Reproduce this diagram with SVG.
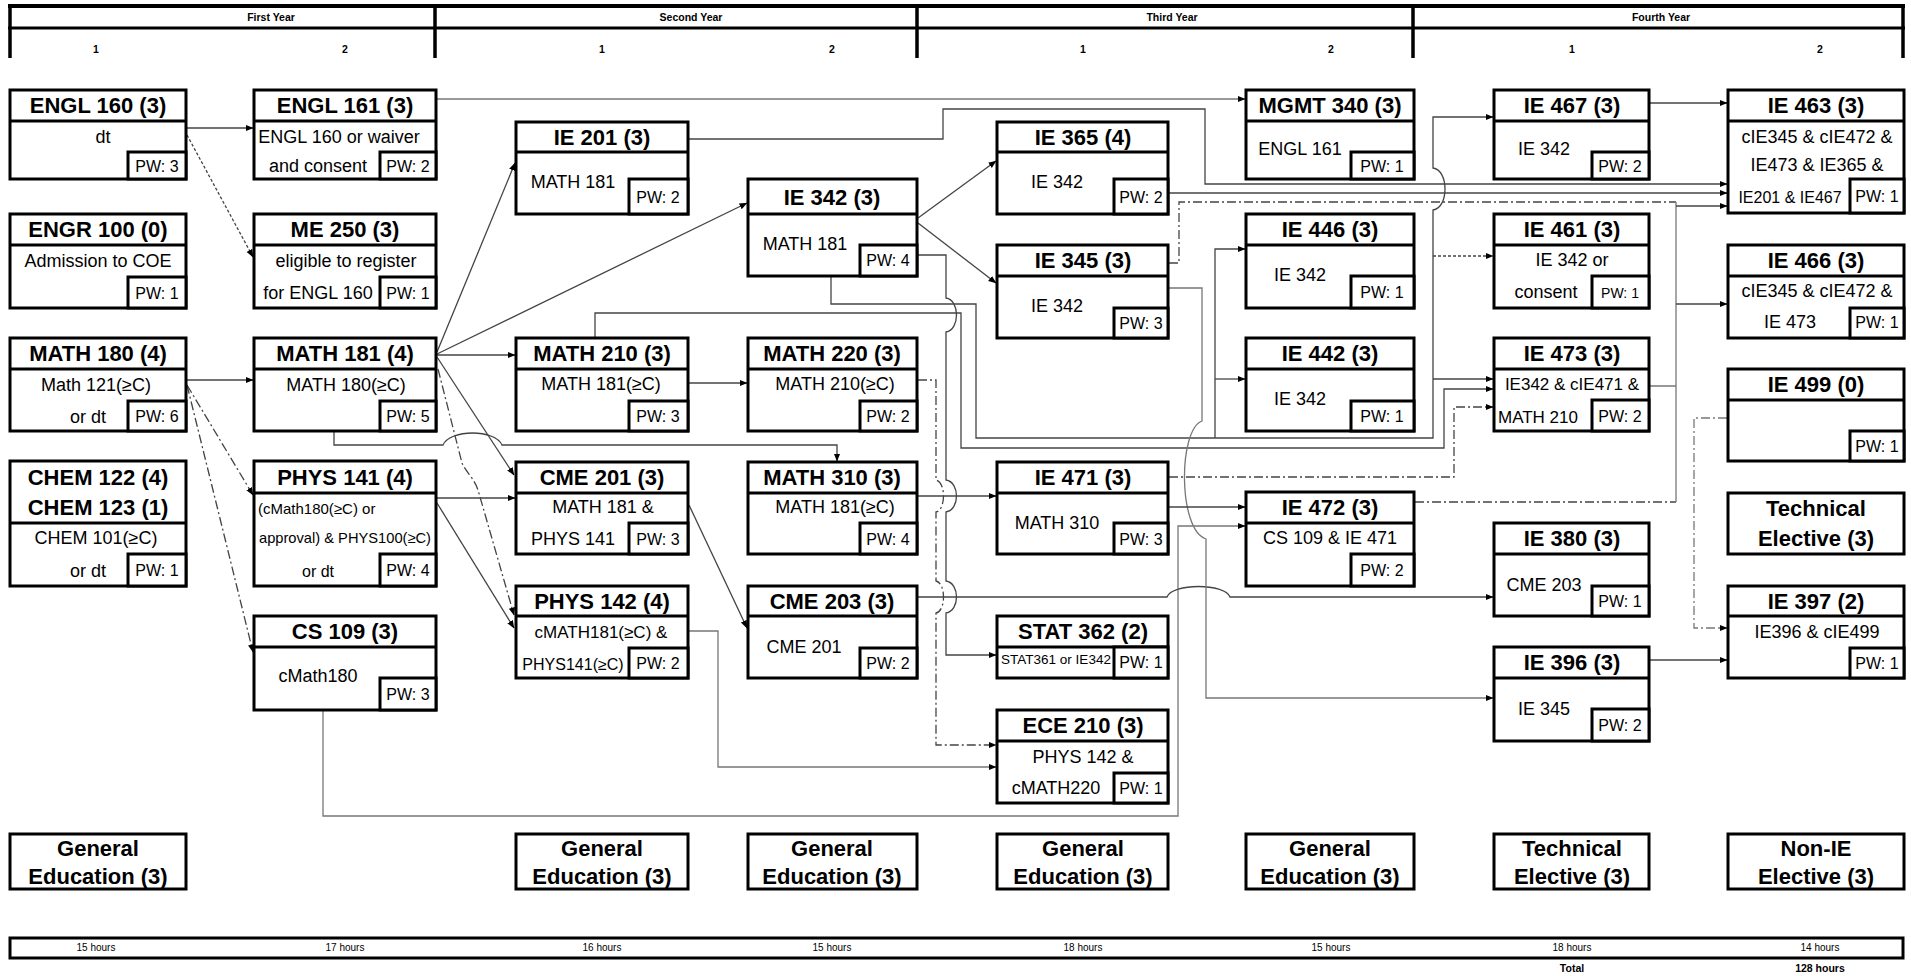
<svg xmlns="http://www.w3.org/2000/svg" width="1911" height="976" viewBox="0 0 1911 976">
<style>
.bx{fill:#fff;stroke:#000;stroke-width:3}
.ln{stroke:#000;stroke-width:3;fill:none}
.hd{stroke:#000;fill:none}
.t{font-family:"Liberation Sans",Arial,sans-serif;font-weight:bold;font-size:22px;text-anchor:middle;fill:#000}
.b{font-family:"Liberation Sans",Arial,sans-serif;font-size:18px;text-anchor:middle;fill:#000}
.pw{font-family:"Liberation Sans",Arial,sans-serif;font-size:16px;text-anchor:middle;fill:#000}
.h{font-family:"Liberation Sans Narrow","Liberation Sans",Arial,sans-serif;font-stretch:condensed;font-size:10px;text-anchor:middle;fill:#000}
.hb{font-family:"Liberation Sans Narrow","Liberation Sans",Arial,sans-serif;font-stretch:condensed;font-size:10.5px;font-weight:bold;text-anchor:middle;fill:#000}
.c{fill:none;stroke:#444;stroke-width:1.3}
.dd{stroke-dasharray:9 3 2 3}
.dt{stroke-dasharray:3 2}
.gr{stroke:#777}
</style>
<defs>
<marker id="ah" viewBox="0 0 8 8" refX="7.5" refY="4" markerWidth="8" markerHeight="8" markerUnits="userSpaceOnUse" orient="auto"><path d="M0,0.8 L8,4 L0,7.2z" fill="#000"/></marker>
</defs>
<rect width="1911" height="976" fill="#fff"/>

<g id="header">
<line class="hd" x1="8" y1="6" x2="1905" y2="6" stroke-width="4"/>
<line class="hd" x1="8" y1="28" x2="1905" y2="28" stroke-width="3"/>
<line class="hd" x1="10" y1="4" x2="10" y2="58" stroke-width="3.5"/>
<line class="hd" x1="435" y1="4" x2="435" y2="58" stroke-width="3.5"/>
<line class="hd" x1="917" y1="4" x2="917" y2="58" stroke-width="3.5"/>
<line class="hd" x1="1413" y1="4" x2="1413" y2="58" stroke-width="3.5"/>
<line class="hd" x1="1903" y1="4" x2="1903" y2="58" stroke-width="3.5"/>
<text class="hb" x="271" y="21">First Year</text>
<text class="hb" x="691" y="21">Second Year</text>
<text class="hb" x="1172" y="21">Third Year</text>
<text class="hb" x="1661" y="21">Fourth Year</text>
<text class="hb" x="96" y="53">1</text>
<text class="hb" x="345" y="53">2</text>
<text class="hb" x="602" y="53">1</text>
<text class="hb" x="832" y="53">2</text>
<text class="hb" x="1083" y="53">1</text>
<text class="hb" x="1331" y="53">2</text>
<text class="hb" x="1572" y="53">1</text>
<text class="hb" x="1820" y="53">2</text>
</g>

<g id="connectors">
<path class="c" d="M187,128 H253" marker-end="url(#ah)"/>
<path class="c dt" d="M187,135 L253,257" marker-end="url(#ah)"/>
<path class="c gr" d="M437,99 H1245" marker-end="url(#ah)"/>
<path class="c" d="M187,380 H253" marker-end="url(#ah)"/>
<path class="c dd" d="M187,385 L253,495" marker-end="url(#ah)"/>
<path class="c dd" d="M187,385 L253,652" marker-end="url(#ah)"/>
<path class="c" d="M437,352 L515,163" marker-end="url(#ah)"/>
<path class="c" d="M437,354 L747,203" marker-end="url(#ah)"/>
<path class="c" d="M437,355 H515" marker-end="url(#ah)"/>
<path class="c" d="M437,357 L514,475" marker-end="url(#ah)"/>
<path class="c dd" d="M438,369 L462,463 C466,472 474,478 478,490 L514,615" marker-end="url(#ah)"/>
<path class="c" d="M334,432 V445 H443 C450,429 495,429 502,445 H837 V461" marker-end="url(#ah)"/>
<path class="c" d="M437,498 H515" marker-end="url(#ah)"/>
<path class="c" d="M437,503 L514,628" marker-end="url(#ah)"/>
<path class="c gr" d="M323,711 V816 H1178 V526 H1245" marker-end="url(#ah)"/>
<path class="c" d="M689,139 H943 V109 H1205 V184 H1727" marker-end="url(#ah)"/>
<path class="c" d="M918,218 L996,161" marker-end="url(#ah)"/>
<path class="c" d="M918,223 L996,283" marker-end="url(#ah)"/>
<path class="c" d="M918,255 H946 V298 C960,300 960,330 946,332 V480 C960,482 960,510 946,512 V581 C960,583 960,611 946,613 V655 H996" marker-end="url(#ah)"/>
<path class="c" d="M831,277 V304 H976 V438 H1433 V210 C1449,208 1449,170 1433,168 V117 H1493" marker-end="url(#ah)"/>
<path class="c" d="M1215,438 V249 H1245" marker-end="url(#ah)"/>
<path class="c" d="M1215,379 H1245" marker-end="url(#ah)"/>
<path class="c dt" d="M1433,256 H1493" marker-end="url(#ah)"/>
<path class="c" d="M1433,379 H1493" marker-end="url(#ah)"/>
<path class="c" d="M595,338 V313 H961 V448 H1444 V389 H1493" marker-end="url(#ah)"/>
<path class="c" d="M689,383 H747" marker-end="url(#ah)"/>
<path class="c dd" d="M918,380 H936 V480 C946,482 946,510 936,512 V581 C946,583 946,611 936,613 V745 H996" marker-end="url(#ah)"/>
<path class="c" d="M918,496 H996" marker-end="url(#ah)"/>
<path class="c" d="M689,505 L747,628" marker-end="url(#ah)"/>
<path class="c" d="M918,597 H1167 C1172,583 1225,583 1230,597 H1493" marker-end="url(#ah)"/>
<path class="c gr" d="M689,631 H718 V767 H996" marker-end="url(#ah)"/>
<path class="c gr" d="M1169,288 H1202 V421 C1178,430 1178,530 1206,539 V698 H1493" marker-end="url(#ah)"/>
<path class="c dd" d="M1169,263 H1179 V202 H1676"/>
<path class="c" d="M1169,193 H1727" marker-end="url(#ah)"/>
<path class="c" d="M1169,507 H1245" marker-end="url(#ah)"/>
<path class="c dd" d="M1169,477 H1454 V407 H1493" marker-end="url(#ah)"/>
<path class="c dd" d="M1415,502 H1676"/>
<path class="c gr" d="M1650,386 H1676 M1676,202 V502"/>
<path class="c" d="M1676,206 H1727" marker-end="url(#ah)"/>
<path class="c" d="M1676,304 H1727" marker-end="url(#ah)"/>
<path class="c" d="M1650,103 H1727" marker-end="url(#ah)"/>
<path class="c dd gr" d="M1727,418 H1694 V628 H1727" marker-end="url(#ah)"/>
<path class="c" d="M1650,660 H1727" marker-end="url(#ah)"/>
</g>

<g id="ENGL160"><rect class="bx" x="10" y="90" width="176" height="89"/><line class="ln" x1="10" y1="121" x2="186" y2="121"/><rect class="bx" x="128" y="152" width="58" height="27"/>
<text class="t" x="98" y="113">ENGL 160 (3)</text><text class="b" x="103" y="143">dt</text><text class="pw" x="157" y="172">PW: 3</text></g>

<g id="ENGR100"><rect class="bx" x="10" y="214" width="176" height="94"/><line class="ln" x1="10" y1="245" x2="186" y2="245"/><rect class="bx" x="128" y="277" width="58" height="31"/>
<text class="t" x="98" y="237">ENGR 100 (0)</text><text class="b" x="98" y="267">Admission to COE</text><text class="pw" x="157" y="299">PW: 1</text></g>

<g id="MATH180"><rect class="bx" x="10" y="338" width="176" height="93"/><line class="ln" x1="10" y1="369" x2="186" y2="369"/><rect class="bx" x="128" y="401" width="58" height="30"/>
<text class="t" x="98" y="361">MATH 180 (4)</text><text class="b" x="96" y="391">Math 121(≥C)</text><text class="b" x="88" y="423">or dt</text><text class="pw" x="157" y="422">PW: 6</text></g>

<g id="CHEM122"><rect class="bx" x="10" y="461" width="176" height="125"/><line class="ln" x1="10" y1="523" x2="186" y2="523"/><rect class="bx" x="128" y="554" width="58" height="32"/>
<text class="t" x="98" y="485">CHEM 122 (4)</text><text class="t" x="98" y="515">CHEM 123 (1)</text><text class="b" x="96" y="544">CHEM 101(≥C)</text><text class="b" x="88" y="577">or dt</text><text class="pw" x="157" y="576">PW: 1</text></g>

<g id="ENGL161"><rect class="bx" x="254" y="90" width="182" height="89"/><line class="ln" x1="254" y1="121" x2="436" y2="121"/><rect class="bx" x="380" y="152" width="56" height="27"/>
<text class="t" x="345" y="113">ENGL 161 (3)</text><text class="b" x="339" y="143">ENGL 160 or waiver</text><text class="b" x="318" y="172">and consent</text><text class="pw" x="408" y="172">PW: 2</text></g>

<g id="ME250"><rect class="bx" x="254" y="214" width="182" height="94"/><line class="ln" x1="254" y1="245" x2="436" y2="245"/><rect class="bx" x="380" y="277" width="56" height="31"/>
<text class="t" x="345" y="237">ME 250 (3)</text><text class="b" x="346" y="267">eligible to register</text><text class="b" x="318" y="299">for ENGL 160</text><text class="pw" x="408" y="299">PW: 1</text></g>

<g id="MATH181"><rect class="bx" x="254" y="338" width="182" height="93"/><line class="ln" x1="254" y1="369" x2="436" y2="369"/><rect class="bx" x="380" y="401" width="56" height="30"/>
<text class="t" x="345" y="361">MATH 181 (4)</text><text class="b" x="346" y="391">MATH 180(≥C)</text><text class="pw" x="408" y="422">PW: 5</text></g>

<g id="PHYS141"><rect class="bx" x="254" y="461" width="182" height="125"/><line class="ln" x1="254" y1="493" x2="436" y2="493"/><rect class="bx" x="380" y="554" width="56" height="32"/>
<text class="t" x="345" y="485">PHYS 141 (4)</text><text class="b" x="258" y="514" style="text-anchor:start;font-size:15px">(cMath180(≥C) or</text><text class="b" x="259" y="543" style="text-anchor:start;font-size:15px" textLength="172" lengthAdjust="spacingAndGlyphs">approval) &amp; PHYS100(≥C)</text><text class="b" x="318" y="577" style="font-size:16px">or dt</text><text class="pw" x="408" y="576">PW: 4</text></g>

<g id="CS109"><rect class="bx" x="254" y="616" width="182" height="94"/><line class="ln" x1="254" y1="647" x2="436" y2="647"/><rect class="bx" x="380" y="678" width="56" height="32"/>
<text class="t" x="345" y="639">CS 109 (3)</text><text class="b" x="318" y="682">cMath180</text><text class="pw" x="408" y="700">PW: 3</text></g>

<g id="IE201"><rect class="bx" x="516" y="122" width="172" height="92"/><line class="ln" x1="516" y1="152" x2="688" y2="152"/><rect class="bx" x="629" y="179" width="59" height="35"/>
<text class="t" x="602" y="145">IE 201 (3)</text><text class="b" x="573" y="188">MATH 181</text><text class="pw" x="658" y="203">PW: 2</text></g>

<g id="MATH210"><rect class="bx" x="516" y="338" width="172" height="93"/><line class="ln" x1="516" y1="369" x2="688" y2="369"/><rect class="bx" x="629" y="401" width="59" height="30"/>
<text class="t" x="602" y="361">MATH 210 (3)</text><text class="b" x="601" y="390">MATH 181(≥C)</text><text class="pw" x="658" y="422">PW: 3</text></g>

<g id="CME201"><rect class="bx" x="516" y="462" width="172" height="92"/><line class="ln" x1="516" y1="493" x2="688" y2="493"/><rect class="bx" x="629" y="523" width="59" height="31"/>
<text class="t" x="602" y="485">CME 201 (3)</text><text class="b" x="603" y="513">MATH 181 &amp;</text><text class="b" x="573" y="545">PHYS 141</text><text class="pw" x="658" y="545">PW: 3</text></g>

<g id="PHYS142"><rect class="bx" x="516" y="586" width="172" height="92"/><line class="ln" x1="516" y1="616" x2="688" y2="616"/><rect class="bx" x="629" y="648" width="59" height="30"/>
<text class="t" x="602" y="609">PHYS 142 (4)</text><text class="b" x="601" y="638" style="font-size:17px">cMATH181(≥C) &amp;</text><text class="b" x="573" y="670" style="font-size:16px">PHYS141(≥C)</text><text class="pw" x="658" y="669">PW: 2</text></g>

<g id="IE342"><rect class="bx" x="748" y="179" width="169" height="97"/><line class="ln" x1="748" y1="214" x2="917" y2="214"/><rect class="bx" x="860" y="245" width="57" height="31"/>
<text class="t" x="832" y="205">IE 342 (3)</text><text class="b" x="805" y="250">MATH 181</text><text class="pw" x="888" y="266">PW: 4</text></g>

<g id="MATH220"><rect class="bx" x="748" y="338" width="169" height="93"/><line class="ln" x1="748" y1="369" x2="917" y2="369"/><rect class="bx" x="860" y="401" width="57" height="30"/>
<text class="t" x="832" y="361">MATH 220 (3)</text><text class="b" x="835" y="390">MATH 210(≥C)</text><text class="pw" x="888" y="422">PW: 2</text></g>

<g id="MATH310"><rect class="bx" x="748" y="462" width="169" height="92"/><line class="ln" x1="748" y1="493" x2="917" y2="493"/><rect class="bx" x="860" y="523" width="57" height="31"/>
<text class="t" x="832" y="485">MATH 310 (3)</text><text class="b" x="835" y="513">MATH 181(≥C)</text><text class="pw" x="888" y="545">PW: 4</text></g>

<g id="CME203"><rect class="bx" x="748" y="586" width="169" height="92"/><line class="ln" x1="748" y1="616" x2="917" y2="616"/><rect class="bx" x="860" y="648" width="57" height="30"/>
<text class="t" x="832" y="609">CME 203 (3)</text><text class="b" x="804" y="653">CME 201</text><text class="pw" x="888" y="669">PW: 2</text></g>

<g id="IE365"><rect class="bx" x="997" y="122" width="171" height="92"/><line class="ln" x1="997" y1="152" x2="1168" y2="152"/><rect class="bx" x="1114" y="179" width="54" height="35"/>
<text class="t" x="1083" y="145">IE 365 (4)</text><text class="b" x="1057" y="188">IE 342</text><text class="pw" x="1141" y="203">PW: 2</text></g>

<g id="IE345"><rect class="bx" x="997" y="245" width="171" height="93"/><line class="ln" x1="997" y1="276" x2="1168" y2="276"/><rect class="bx" x="1114" y="308" width="54" height="30"/>
<text class="t" x="1083" y="268">IE 345 (3)</text><text class="b" x="1057" y="312">IE 342</text><text class="pw" x="1141" y="329">PW: 3</text></g>

<g id="IE471"><rect class="bx" x="997" y="462" width="171" height="92"/><line class="ln" x1="997" y1="493" x2="1168" y2="493"/><rect class="bx" x="1114" y="523" width="54" height="31"/>
<text class="t" x="1083" y="485">IE 471 (3)</text><text class="b" x="1057" y="529">MATH 310</text><text class="pw" x="1141" y="545">PW: 3</text></g>

<g id="STAT362"><rect class="bx" x="997" y="616" width="171" height="62"/><line class="ln" x1="997" y1="647" x2="1168" y2="647"/><rect class="bx" x="1114" y="647" width="54" height="31"/>
<text class="t" x="1083" y="639">STAT 362 (2)</text><text class="b" x="1056" y="664" style="font-size:13.5px">STAT361 or IE342</text><text class="pw" x="1141" y="668">PW: 1</text></g>

<g id="ECE210"><rect class="bx" x="997" y="710" width="171" height="93"/><line class="ln" x1="997" y1="741" x2="1168" y2="741"/><rect class="bx" x="1114" y="773" width="54" height="30"/>
<text class="t" x="1083" y="733">ECE 210 (3)</text><text class="b" x="1083" y="763">PHYS 142 &amp;</text><text class="b" x="1056" y="794">cMATH220</text><text class="pw" x="1141" y="794">PW: 1</text></g>

<g id="MGMT340"><rect class="bx" x="1246" y="90" width="168" height="89"/><line class="ln" x1="1246" y1="121" x2="1414" y2="121"/><rect class="bx" x="1351" y="152" width="63" height="27"/>
<text class="t" x="1330" y="113">MGMT 340 (3)</text><text class="b" x="1300" y="155">ENGL 161</text><text class="pw" x="1382" y="172">PW: 1</text></g>

<g id="IE446"><rect class="bx" x="1246" y="214" width="168" height="94"/><line class="ln" x1="1246" y1="245" x2="1414" y2="245"/><rect class="bx" x="1351" y="276" width="63" height="32"/>
<text class="t" x="1330" y="237">IE 446 (3)</text><text class="b" x="1300" y="281">IE 342</text><text class="pw" x="1382" y="298">PW: 1</text></g>

<g id="IE442"><rect class="bx" x="1246" y="338" width="168" height="93"/><line class="ln" x1="1246" y1="369" x2="1414" y2="369"/><rect class="bx" x="1351" y="401" width="63" height="30"/>
<text class="t" x="1330" y="361">IE 442 (3)</text><text class="b" x="1300" y="405">IE 342</text><text class="pw" x="1382" y="422">PW: 1</text></g>

<g id="IE472"><rect class="bx" x="1246" y="492" width="168" height="94"/><line class="ln" x1="1246" y1="523" x2="1414" y2="523"/><rect class="bx" x="1351" y="554" width="63" height="32"/>
<text class="t" x="1330" y="515">IE 472 (3)</text><text class="b" x="1330" y="544">CS 109 &amp; IE 471</text><text class="pw" x="1382" y="576">PW: 2</text></g>

<g id="IE467"><rect class="bx" x="1494" y="90" width="155" height="89"/><line class="ln" x1="1494" y1="121" x2="1649" y2="121"/><rect class="bx" x="1592" y="152" width="57" height="27"/>
<text class="t" x="1572" y="113">IE 467 (3)</text><text class="b" x="1544" y="155">IE 342</text><text class="pw" x="1620" y="172">PW: 2</text></g>

<g id="IE461"><rect class="bx" x="1494" y="214" width="155" height="94"/><line class="ln" x1="1494" y1="245" x2="1649" y2="245"/><rect class="bx" x="1592" y="276" width="57" height="32"/>
<text class="t" x="1572" y="237">IE 461 (3)</text><text class="b" x="1572" y="266">IE 342 or</text><text class="b" x="1546" y="298">consent</text><text class="pw" x="1620" y="298" style="font-size:14px">PW: 1</text></g>

<g id="IE473"><rect class="bx" x="1494" y="338" width="155" height="93"/><line class="ln" x1="1494" y1="369" x2="1649" y2="369"/><rect class="bx" x="1592" y="400" width="57" height="31"/>
<text class="t" x="1572" y="361">IE 473 (3)</text><text class="b" x="1572" y="390" style="font-size:17px">IE342 &amp; cIE471 &amp;</text><text class="b" x="1538" y="423" style="font-size:17px">MATH 210</text><text class="pw" x="1620" y="422">PW: 2</text></g>

<g id="IE380"><rect class="bx" x="1494" y="523" width="155" height="93"/><line class="ln" x1="1494" y1="554" x2="1649" y2="554"/><rect class="bx" x="1592" y="586" width="57" height="30"/>
<text class="t" x="1572" y="546">IE 380 (3)</text><text class="b" x="1544" y="591">CME 203</text><text class="pw" x="1620" y="607">PW: 1</text></g>

<g id="IE396"><rect class="bx" x="1494" y="647" width="155" height="94"/><line class="ln" x1="1494" y1="678" x2="1649" y2="678"/><rect class="bx" x="1592" y="709" width="57" height="32"/>
<text class="t" x="1572" y="670">IE 396 (3)</text><text class="b" x="1544" y="715">IE 345</text><text class="pw" x="1620" y="731">PW: 2</text></g>

<g id="IE463"><rect class="bx" x="1728" y="90" width="176" height="123"/><line class="ln" x1="1728" y1="121" x2="1904" y2="121"/><rect class="bx" x="1850" y="179" width="54" height="34"/>
<text class="t" x="1816" y="113">IE 463 (3)</text><text class="b" x="1817" y="143">cIE345 &amp; cIE472 &amp;</text><text class="b" x="1817" y="171">IE473 &amp; IE365 &amp;</text><text class="b" x="1790" y="203" style="font-size:16px">IE201 &amp; IE467</text><text class="pw" x="1877" y="202">PW: 1</text></g>

<g id="IE466"><rect class="bx" x="1728" y="245" width="176" height="93"/><line class="ln" x1="1728" y1="276" x2="1904" y2="276"/><rect class="bx" x="1850" y="308" width="54" height="30"/>
<text class="t" x="1816" y="268">IE 466 (3)</text><text class="b" x="1817" y="297">cIE345 &amp; cIE472 &amp;</text><text class="b" x="1790" y="328">IE 473</text><text class="pw" x="1877" y="328">PW: 1</text></g>

<g id="IE499"><rect class="bx" x="1728" y="369" width="176" height="92"/><line class="ln" x1="1728" y1="400" x2="1904" y2="400"/><rect class="bx" x="1850" y="431" width="54" height="30"/>
<text class="t" x="1816" y="392">IE 499 (0)</text><text class="pw" x="1877" y="452">PW: 1</text></g>

<g id="TechElective4"><rect class="bx" x="1728" y="493" width="176" height="61"/>
<text class="t" x="1816" y="516">Technical</text><text class="t" x="1816" y="546">Elective (3)</text></g>

<g id="IE397"><rect class="bx" x="1728" y="586" width="176" height="92"/><line class="ln" x1="1728" y1="616" x2="1904" y2="616"/><rect class="bx" x="1850" y="648" width="54" height="30"/>
<text class="t" x="1816" y="609">IE 397 (2)</text><text class="b" x="1817" y="638">IE396 &amp; cIE499</text><text class="pw" x="1877" y="669">PW: 1</text></g>

<g id="GE1"><rect class="bx" x="10" y="834" width="176" height="55"/><text class="t" x="98" y="856">General</text><text class="t" x="98" y="884">Education (3)</text></g>
<g id="GE3"><rect class="bx" x="516" y="834" width="172" height="55"/><text class="t" x="602" y="856">General</text><text class="t" x="602" y="884">Education (3)</text></g>
<g id="GE4"><rect class="bx" x="748" y="834" width="169" height="55"/><text class="t" x="832" y="856">General</text><text class="t" x="832" y="884">Education (3)</text></g>
<g id="GE5"><rect class="bx" x="997" y="834" width="171" height="55"/><text class="t" x="1083" y="856">General</text><text class="t" x="1083" y="884">Education (3)</text></g>
<g id="GE6"><rect class="bx" x="1246" y="834" width="168" height="55"/><text class="t" x="1330" y="856">General</text><text class="t" x="1330" y="884">Education (3)</text></g>
<g id="TechElective7"><rect class="bx" x="1494" y="834" width="155" height="55"/><text class="t" x="1572" y="856">Technical</text><text class="t" x="1572" y="884">Elective (3)</text></g>
<g id="NonIE"><rect class="bx" x="1728" y="834" width="176" height="55"/><text class="t" x="1816" y="856">Non-IE</text><text class="t" x="1816" y="884">Elective (3)</text></g>

<g id="footer">
<rect x="10" y="938" width="1893" height="20" fill="#fff" stroke="#000" stroke-width="3"/>
<text class="h" x="96" y="951">15 hours</text>
<text class="h" x="345" y="951">17 hours</text>
<text class="h" x="602" y="951">16 hours</text>
<text class="h" x="832" y="951">15 hours</text>
<text class="h" x="1083" y="951">18 hours</text>
<text class="h" x="1331" y="951">15 hours</text>
<text class="h" x="1572" y="951">18 hours</text>
<text class="h" x="1820" y="951">14 hours</text>
<text class="hb" x="1572" y="972">Total</text>
<text class="hb" x="1820" y="972">128 hours</text>
</g>
</svg>
